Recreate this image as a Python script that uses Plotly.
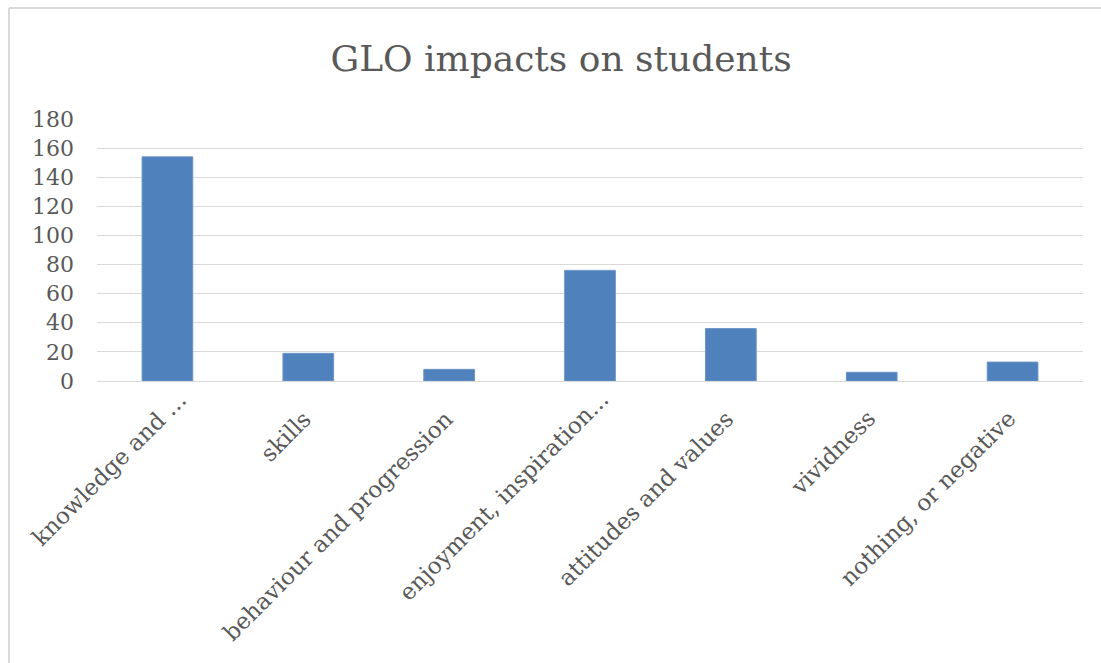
import plotly.graph_objects as go

# Category labels as shown on the axis
categories = [
    "knowledge and ...",
    "skills",
    "behaviour and progression",
    "enjoyment, inspiration...",
    "attitudes and values",
    "vividness",
    "nothing, or negative",
]
counts = [154, 19, 8, 76, 36, 6, 13]
y_ticks = [0, 20, 40, 60, 80, 100, 120, 140, 160, 180]

W, H = 1101, 663
L, R, T, B = 97, 18, 119, 282
plot_w = W - L - R
plot_h = H - T - B

grey_text = "#595959"
grid = "#d9d9d9"
font_family = "DejaVu Serif, Liberation Serif, serif"

fig = go.Figure(
    go.Bar(
        x=categories,
        y=counts,
        marker=dict(color="#4f81bd", line=dict(color="#6d95c8", width=1)),
        hoverinfo="x+y",
    )
)


def px_to_paper_x(px):
    return (px - L) / plot_w


def px_to_paper_y(py):
    return (H - B - py) / plot_h


# Light frame around the chart area (top and left edges)
frame_x = px_to_paper_x(9)
frame_top = px_to_paper_y(8)
frame_bottom = px_to_paper_y(H + 5)
frame_right = px_to_paper_x(W + 5)
shapes = [
    dict(type="line", xref="paper", yref="paper", x0=frame_x, x1=frame_right,
         y0=frame_top, y1=frame_top, line=dict(color=grid, width=2)),
    dict(type="line", xref="paper", yref="paper", x0=frame_x, x1=frame_x,
         y0=frame_top, y1=frame_bottom, line=dict(color=grid, width=2)),
]

# Slanted category labels hung under each bar; shortened labels
# (ending in an ellipsis) sit a little higher along the slant.
annotations = []
for cat in categories:
    shortened = cat.endswith("...")
    annotations.append(dict(
        x=cat, xref="x",
        y=0, yref="paper",
        text=cat,
        showarrow=False,
        textangle=-45,
        xanchor="right",
        yanchor="top",
        xshift=26 if shortened else 11,
        yshift=-3 if shortened else -22,
        font=dict(family=font_family, size=23, color=grey_text),
    ))

fig.update_layout(
    width=W,
    height=H,
    margin=dict(l=L, r=R, t=T, b=B, pad=0, autoexpand=False),
    paper_bgcolor="white",
    plot_bgcolor="white",
    bargap=0.64,
    showlegend=False,
    shapes=shapes,
    annotations=annotations,
    title=dict(
        text="GLO impacts on students",
        x=561 / W,
        xanchor="center",
        xref="container",
        y=1 - 58 / H,
        yanchor="middle",
        font=dict(family=font_family, size=36, color=grey_text),
    ),
    xaxis=dict(
        range=[-0.5, len(categories) - 0.5],
        showticklabels=False,
        showgrid=False,
        showline=True,
        linecolor=grid,
        linewidth=1,
        ticks="",
        automargin=False,
        fixedrange=True,
    ),
    yaxis=dict(
        range=[0, 180],
        tickvals=y_ticks,
        tickfont=dict(family=font_family, size=22, color=grey_text),
        showgrid=True,
        gridcolor=grid,
        gridwidth=1,
        zeroline=False,
        showline=False,
        ticks="",
        ticklabelstandoff=22,
        automargin=False,
        fixedrange=True,
    ),
)

fig.write_html("out.html")
